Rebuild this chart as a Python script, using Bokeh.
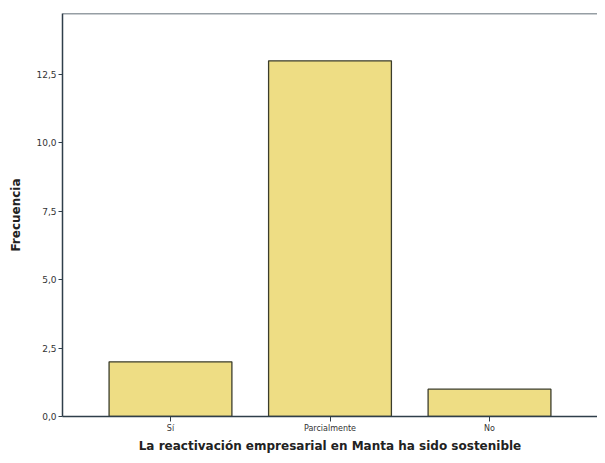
from bokeh.plotting import figure
from bokeh.models import FactorRange, Range1d, FixedTicker, Span, ColumnDataSource
from bokeh.embed import file_html
from bokeh.resources import INLINE

categories = ["Sí", "Parcialmente", "No"]
frecuencia = [2, 13, 1]
y_ticks = [0, 2.5, 5, 7.5, 10, 12.5]
y_tick_labels = ["0,0", "2,5", "5,0", "7,5", "10,0", "12,5"]
x_title = "La reactivación empresarial en Manta ha sido sostenible"
y_title = "Frecuencia"
y_max = 14.73

FONT = "DejaVu Sans"
AXIS_COLOR = "#2f3e4a"

src = ColumnDataSource(dict(cat=categories, val=frecuencia))

p = figure(
    width=597, height=455,
    x_range=FactorRange(factors=categories, range_padding=0.118),
    y_range=Range1d(0, y_max),
    output_backend="svg", toolbar_location=None,
    min_border_left=62, min_border_right=0, min_border_top=13, min_border_bottom=35,
)
p.outline_line_color = None
p.xgrid.grid_line_color = None
p.ygrid.grid_line_color = None
p.background_fill_color = "white"
p.border_fill_color = "white"

p.vbar(x="cat", top="val", width=0.77, source=src,
       fill_color="#eedd84", line_color="#3b3d2c", line_width=1.3)

top_border = Span(location=y_max, dimension="width", line_color=AXIS_COLOR, line_width=1.5)
p.add_layout(top_border)

# Y axis
ya = p.yaxis[0]
ya.ticker = FixedTicker(ticks=y_ticks)
ya.major_label_overrides = {t: l for t, l in zip(y_ticks, y_tick_labels)}
ya.axis_line_color = AXIS_COLOR
ya.axis_line_width = 1.5
ya.major_tick_line_color = AXIS_COLOR
ya.major_tick_in = 0
ya.major_tick_out = 4
ya.minor_tick_line_color = None
ya.major_label_text_font = FONT
ya.major_label_text_font_size = "9px"
ya.major_label_text_color = "#333333"
ya.major_label_standoff = 2
ya.axis_label = y_title
ya.axis_label_text_font = FONT
ya.axis_label_text_font_style = "bold"
ya.axis_label_text_font_size = "12px"
ya.axis_label_text_color = "#222222"
ya.axis_label_standoff = 10

# X axis
xa = p.xaxis[0]
xa.axis_line_color = AXIS_COLOR
xa.axis_line_width = 1.5
xa.major_tick_line_color = AXIS_COLOR
xa.major_tick_in = 0
xa.major_tick_out = 5
xa.minor_tick_line_color = None
xa.major_label_text_font = FONT
xa.major_label_text_font_size = "8px"
xa.major_label_text_color = "#333333"
xa.major_label_standoff = 2
xa.axis_label = x_title
xa.axis_label_text_font = FONT
xa.axis_label_text_font_style = "bold"
xa.axis_label_text_font_size = "12px"
xa.axis_label_text_color = "#222222"
xa.axis_label_standoff = 3

open("out.html", "w").write(file_html(p, INLINE))
